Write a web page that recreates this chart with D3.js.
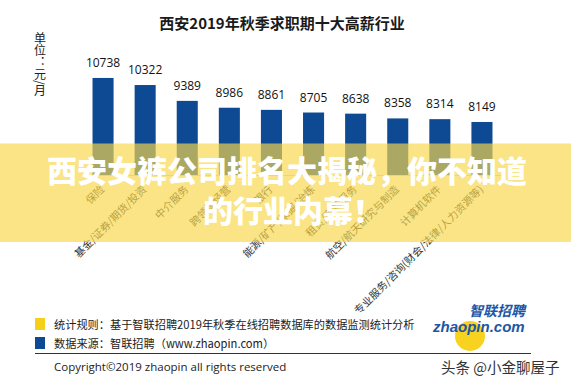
<!DOCTYPE html>
<html>
<head>
<meta charset="utf-8">
<script src="https://cdn.jsdelivr.net/npm/d3@7"></script>
<style>
  body { margin: 0; background: #fff; }
  svg { display: block; }
</style>
</head>
<body>
<div id="chart"></div>
<script>

const industries = ["保险", "基金/证券/期货/投资", "中介服务", "跨领域经营", "银行",
  "能源/矿产/采掘/冶炼", "租赁/商务服务", "航空/航天研究与制造", "计算机软件",
  "专业服务/咨询(财会/法律/人力资源等)"];
const salaries = [10738, 10322, 9389, 8986, 8861, 8705, 8638, 8358, 8314, 8149];
const legendItems = ["统计规则：基于智联招聘2019年秋季在线招聘数据库的数据监测统计分析",
  "数据来源：智联招聘（www.zhaopin.com）"];
const legendColors = ["#f5cf1a", "#0e4a94"];

const width = 571;
const height = 386;
const cjk = "'Noto Sans CJK SC', 'Noto Sans', sans-serif";
const narrow = "'Liberation Sans Narrow', 'Open Sans', sans-serif";

/*
CREATE THE SVG CANVAS
*/
const canvas = d3.select("#chart")
  .append("svg")
  .attr("width", width)
  .attr("height", height);

canvas.append("rect")
  .attr("width", width)
  .attr("height", height)
  .attr("fill", "#fff");

/* scales */
const xScale = d3.scaleBand()
  .domain(industries)
  .range([82, 503])
  .paddingInner(0.5)
  .paddingOuter(0.25);

const yScale = d3.scaleLinear()
  .domain([5000, 11000])
  .range([175.5, 73.5]);

/* title and unit */
canvas.append("text")
  .attr("x", 282)
  .attr("y", 29)
  .attr("text-anchor", "middle")
  .attr("font-family", cjk)
  .attr("font-weight", 700)
  .attr("font-size", 15)
  .attr("fill", "#1a1a1a")
  .text("西安2019年秋季求职期十大高薪行业");

canvas.append("text")
  .attr("x", 40)
  .attr("y", 32)
  .style("writing-mode", "vertical-rl")
  .attr("font-family", cjk)
  .attr("font-size", 12)
  .attr("fill", "#222")
  .text("单位：元/月");

/* bars */
canvas.selectAll(".bar")
  .data(salaries)
  .enter()
  .append("rect")
  .attr("class", "bar")
  .attr("x", (d, i) => xScale(industries[i]))
  .attr("y", d => yScale(d))
  .attr("width", xScale.bandwidth())
  .attr("height", d => yScale(5000) - yScale(d))
  .attr("fill", "#0e4a94");

canvas.selectAll(".val")
  .data(salaries)
  .enter()
  .append("text")
  .attr("class", "val")
  .attr("x", (d, i) => xScale(industries[i]) + xScale.bandwidth() / 2)
  .attr("y", d => yScale(d) - 11)
  .attr("text-anchor", "middle")
  .attr("font-family", narrow)
  .attr("font-size", 12)
  .attr("fill", "#111")
  .text(d => d);

/* axis line */
canvas.append("line")
  .attr("x1", xScale.range()[0])
  .attr("x2", xScale.range()[1])
  .attr("y1", yScale(5000))
  .attr("y2", yScale(5000))
  .attr("stroke", "#d0d0d0")
  .attr("stroke-width", 1);

/* rotated category labels */
canvas.selectAll(".cat")
  .data(industries)
  .enter()
  .append("text")
  .attr("class", "cat")
  .attr("transform", d => `translate(${xScale(d) + xScale.bandwidth() / 2 + 2},190) rotate(-45)`)
  .attr("text-anchor", "end")
  .attr("font-family", cjk)
  .attr("font-size", 10.5)
  .attr("fill", "#333")
  .text(d => d);

/* yellow banner overlay */
canvas.append("rect")
  .attr("x", 0)
  .attr("y", 143.5)
  .attr("width", width)
  .attr("height", 98.5)
  .attr("fill", "rgb(247,214,75)")
  .attr("opacity", 0.67);

canvas.append("text")
  .attr("x", 287)
  .attr("y", 182)
  .attr("text-anchor", "middle")
  .attr("font-family", cjk)
  .attr("font-weight", 900)
  .attr("font-size", 30)
  .attr("fill", "#fff")
  .text("西安女裤公司排名大揭秘，你不知道");

canvas.append("text")
  .attr("x", 203)
  .attr("y", 222)
  .attr("font-family", cjk)
  .attr("font-weight", 900)
  .attr("font-size", 30)
  .attr("fill", "#fff")
  .text("的行业内幕！");

/* legend */
const legend = canvas.selectAll(".legend")
  .data(legendItems)
  .enter()
  .append("g")
  .attr("class", "legend")
  .attr("transform", (d, i) => `translate(35,${318 + i * 19})`);

legend.append("rect")
  .attr("width", 10)
  .attr("height", 12)
  .attr("fill", (d, i) => legendColors[i]);

legend.append("text")
  .attr("x", 19)
  .attr("y", 10.5)
  .attr("font-family", cjk)
  .attr("font-size", 11.2)
  .attr("fill", "#222")
  .text(d => d);

canvas.append("line")
  .attr("x1", 35)
  .attr("x2", 531)
  .attr("y1", 353.5)
  .attr("y2", 353.5)
  .attr("stroke", "#333")
  .attr("stroke-width", 1);

canvas.append("text")
  .attr("x", 54)
  .attr("y", 371)
  .attr("font-family", narrow)
  .attr("font-size", 11.5)
  .attr("fill", "#222")
  .text("Copyright©2019 zhaopin all rights reserved");

/* zhaopin logo */
canvas.append("circle")
  .attr("cx", 470)
  .attr("cy", 336)
  .attr("r", 15)
  .attr("fill", "#f7d21e");

canvas.append("text")
  .attr("x", 469)
  .attr("y", 316)
  .attr("font-family", cjk)
  .attr("font-weight", 700)
  .attr("font-style", "italic")
  .attr("font-size", 14)
  .attr("fill", "#1d56a6")
  .text("智联招聘");

canvas.append("text")
  .attr("x", 433)
  .attr("y", 332)
  .attr("font-family", "'Liberation Sans', sans-serif")
  .attr("font-weight", 700)
  .attr("font-style", "italic")
  .attr("font-size", 15)
  .attr("fill", "#1d56a6")
  .text("zhaopin.com");

canvas.append("text")
  .attr("x", 441)
  .attr("y", 373)
  .attr("font-family", cjk)
  .attr("font-size", 14.5)
  .attr("fill", "#333")
  .text("头条 @小金聊屋子");

</script>
</body>
</html>
